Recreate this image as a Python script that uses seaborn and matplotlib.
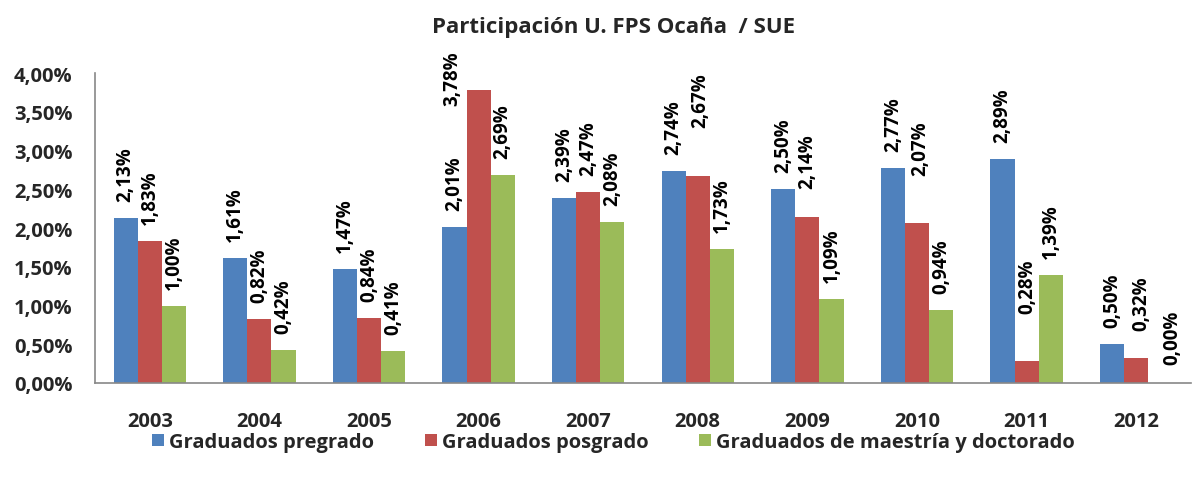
import matplotlib
matplotlib.use("Agg")
import matplotlib.pyplot as plt
import seaborn as sns
import pandas as pd
from matplotlib.ticker import FuncFormatter, FixedLocator
from matplotlib.patches import Patch

years = ["2003", "2004", "2005", "2006", "2007", "2008", "2009", "2010", "2011", "2012"]
pregrado = [2.13, 1.61, 1.47, 2.01, 2.39, 2.74, 2.50, 2.77, 2.89, 0.50]
posgrado = [1.83, 0.82, 0.84, 3.78, 2.47, 2.67, 2.14, 2.07, 0.28, 0.32]
maestria = [1.00, 0.42, 0.41, 2.69, 2.08, 1.73, 1.09, 0.94, 1.39, 0.00]
series = ["Graduados pregrado", "Graduados posgrado", "Graduados de maestría y doctorado"]
colors = ["#4F81BD", "#C0504D", "#9BBB59"]
title = "Participación U. FPS Ocaña  / SUE"

# manual label nudges (pixels) as placed in the original chart: (dx, dy up)
label_nudge = [
    [(0, 0)] * 10,
    [(0, 0), (0, 0), (0, 0), (-26, -32), (0, 0), (3, 32), (0, 12), (3, 31), (1, 31), (5, 11)],
    [(0, 0)] * 9 + [(12, 2)],
]

rows = []
for s, vals in zip(series, [pregrado, posgrado, maestria]):
    for y, v in zip(years, vals):
        rows.append({"Año": y, "Serie": s, "Valor": v})
df = pd.DataFrame(rows)

sns.set_theme(style="white")
plt.rcParams['font.family'] = ['Open Sans', 'DejaVu Sans']

fig = plt.figure(figsize=(11.96, 4.81), dpi=100)
ax = fig.add_axes([0.0794, 0.2017, 0.9164, 0.6443])

sns.barplot(data=df, x="Año", y="Valor", hue="Serie", order=years, hue_order=series,
            palette=colors, width=0.66, ax=ax, legend=False, saturation=1,
            edgecolor="none", linewidth=0, errorbar=None)

def fmt(v):
    return f"{v:.2f}".replace(".", ",") + "%"

px = 0.72  # points per pixel at dpi 100
base_gap = 17
for cont, nudges in zip(ax.containers, label_nudge):
    for bar, (dx, dy) in zip(cont, nudges):
        x = bar.get_x() + bar.get_width() / 2
        h = bar.get_height()
        ax.annotate(fmt(h), xy=(x, h), xytext=(dx * px, (base_gap + dy) * px),
                    textcoords="offset points", ha="center", va="bottom",
                    rotation=90, fontsize=13.5, fontweight="bold", color="black",
                    annotation_clip=False)

ax.set_ylim(0, 4.0)
ax.set_xlim(-0.5, 9.5)
ax.yaxis.set_major_locator(FixedLocator([0, 0.5, 1, 1.5, 2, 2.5, 3, 3.5, 4]))
ax.yaxis.set_major_formatter(FuncFormatter(lambda v, p: fmt(v)))
ax.set_xlabel("")
ax.set_ylabel("")
ax.set_xticks(range(len(years)))
ax.set_xticklabels(years)
ax.set_xticks([i - 0.5 for i in range(len(years) + 1)], minor=True)
ax.tick_params(axis="x", which="major", length=0, pad=20, labelsize=14.5)
ax.tick_params(axis="x", which="minor", length=6, width=1.2, color="#888888", direction="out")
ax.tick_params(axis="y", length=6, width=1.2, color="#888888", direction="out", labelsize=14.5, pad=10)
for lab in ax.get_xticklabels() + ax.get_yticklabels():
    lab.set_fontweight("bold")

for side in ["top", "right"]:
    ax.spines[side].set_visible(False)
for side in ["left", "bottom"]:
    ax.spines[side].set_color("#888888")
    ax.spines[side].set_linewidth(1.2)

fig.text(0.513, 0.942, title, ha="center", va="center", fontsize=16, fontweight="bold")

handles = [Patch(facecolor=c, edgecolor="none") for c in colors]
fig.legend(handles, series, loc="center", bbox_to_anchor=(0.513, 0.079), ncol=3,
           frameon=False, prop={"weight": "bold", "size": 14.5},
           handlelength=0.6, handleheight=0.6, handletextpad=0.25, columnspacing=2.5)

fig.savefig("out.png", dpi=100)
